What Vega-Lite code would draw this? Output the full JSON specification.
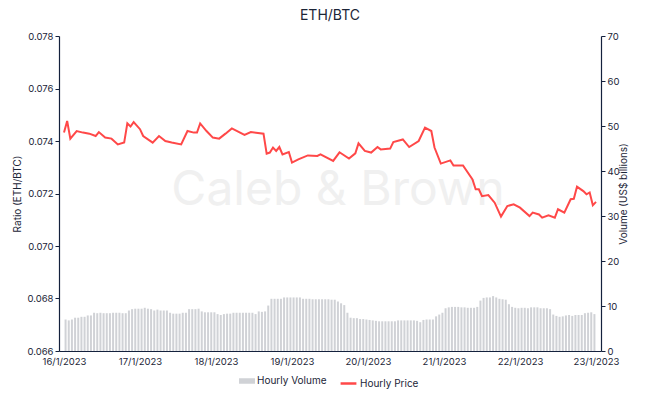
{
  "$schema": "https://vega.github.io/schema/vega-lite/v6.json",
  "width": 542,
  "height": 315,
  "padding": {"left": 12, "top": 9, "right": 10, "bottom": 5},
  "background": "white",
  "title": {"text": "ETH/BTC", "fontSize": 14, "fontWeight": "normal", "font": "Inter", "color": "#1b2537", "offset": 8},
  "config": {
    "view": {"stroke": null},
    "font": "Inter",
    "axis": {"labelFont": "Inter", "titleFont": "Inter", "labelColor": "#1b2537", "titleColor": "#1b2537", "domainColor": "#14213d", "tickColor": "#14213d", "labelFontSize": 9.5, "titleFontSize": 10, "titleFontWeight": "normal", "grid": false, "domainWidth": 1.2},
    "axisX": {"title": null, "format": "%-d/%-m/%Y", "tickCount": {"interval": "day", "step": 1}, "ticks": false, "labelPadding": 5, "labelOverlap": false, "labelFlush": false},
    "legend": {"labelFont": "Inter", "labelFontSize": 10, "labelColor": "#1b2537"}
  },
  "datasets": {
    "vol": [
      {"t":"2023-01-16T00:30","v":7.0},{"t":"2023-01-16T01:30","v":6.8},{"t":"2023-01-16T02:30","v":7.0},{"t":"2023-01-16T03:30","v":7.4},{"t":"2023-01-16T04:30","v":7.4},{"t":"2023-01-16T05:30","v":7.6},{"t":"2023-01-16T06:30","v":7.6},{"t":"2023-01-16T07:30","v":7.9},{"t":"2023-01-16T08:30","v":7.9},{"t":"2023-01-16T09:30","v":8.5},{"t":"2023-01-16T10:30","v":8.4},{"t":"2023-01-16T11:30","v":8.5},{"t":"2023-01-16T12:30","v":8.4},{"t":"2023-01-16T13:30","v":8.4},{"t":"2023-01-16T14:30","v":8.4},{"t":"2023-01-16T15:30","v":8.5},{"t":"2023-01-16T16:30","v":8.5},{"t":"2023-01-16T17:30","v":8.5},{"t":"2023-01-16T18:30","v":8.4},{"t":"2023-01-16T19:30","v":8.4},{"t":"2023-01-16T20:30","v":9.0},{"t":"2023-01-16T21:30","v":9.3},{"t":"2023-01-16T22:30","v":9.4},{"t":"2023-01-16T23:30","v":9.4},
      {"t":"2023-01-17T00:30","v":9.4},{"t":"2023-01-17T01:30","v":9.6},{"t":"2023-01-17T02:30","v":9.4},{"t":"2023-01-17T03:30","v":9.3},{"t":"2023-01-17T04:30","v":9.0},{"t":"2023-01-17T05:30","v":9.2},{"t":"2023-01-17T06:30","v":9.0},{"t":"2023-01-17T07:30","v":9.0},{"t":"2023-01-17T08:30","v":9.0},{"t":"2023-01-17T09:30","v":8.5},{"t":"2023-01-17T10:30","v":8.3},{"t":"2023-01-17T11:30","v":8.3},{"t":"2023-01-17T12:30","v":8.3},{"t":"2023-01-17T13:30","v":8.5},{"t":"2023-01-17T14:30","v":8.5},{"t":"2023-01-17T15:30","v":9.3},{"t":"2023-01-17T16:30","v":9.3},{"t":"2023-01-17T17:30","v":9.3},{"t":"2023-01-17T18:30","v":9.4},{"t":"2023-01-17T19:30","v":8.8},{"t":"2023-01-17T20:30","v":8.6},{"t":"2023-01-17T21:30","v":8.6},{"t":"2023-01-17T22:30","v":8.6},{"t":"2023-01-17T23:30","v":8.6},
      {"t":"2023-01-18T00:30","v":8.2},{"t":"2023-01-18T01:30","v":8.0},{"t":"2023-01-18T02:30","v":8.2},{"t":"2023-01-18T03:30","v":8.3},{"t":"2023-01-18T04:30","v":8.3},{"t":"2023-01-18T05:30","v":8.5},{"t":"2023-01-18T06:30","v":8.5},{"t":"2023-01-18T07:30","v":8.5},{"t":"2023-01-18T08:30","v":8.5},{"t":"2023-01-18T09:30","v":8.5},{"t":"2023-01-18T10:30","v":8.5},{"t":"2023-01-18T11:30","v":8.5},{"t":"2023-01-18T12:30","v":8.2},{"t":"2023-01-18T13:30","v":8.8},{"t":"2023-01-18T14:30","v":8.7},{"t":"2023-01-18T15:30","v":8.8},{"t":"2023-01-18T16:30","v":10.1},{"t":"2023-01-18T17:30","v":11.6},{"t":"2023-01-18T18:30","v":11.6},{"t":"2023-01-18T19:30","v":11.6},{"t":"2023-01-18T20:30","v":11.6},{"t":"2023-01-18T21:30","v":11.9},{"t":"2023-01-18T22:30","v":11.9},{"t":"2023-01-18T23:30","v":11.9},
      {"t":"2023-01-19T00:30","v":11.9},{"t":"2023-01-19T01:30","v":11.9},{"t":"2023-01-19T02:30","v":11.9},{"t":"2023-01-19T03:30","v":11.6},{"t":"2023-01-19T04:30","v":11.6},{"t":"2023-01-19T05:30","v":11.6},{"t":"2023-01-19T06:30","v":11.5},{"t":"2023-01-19T07:30","v":11.5},{"t":"2023-01-19T08:30","v":11.5},{"t":"2023-01-19T09:30","v":11.5},{"t":"2023-01-19T10:30","v":11.5},{"t":"2023-01-19T11:30","v":11.5},{"t":"2023-01-19T12:30","v":11.4},{"t":"2023-01-19T13:30","v":11.4},{"t":"2023-01-19T14:30","v":11.0},{"t":"2023-01-19T15:30","v":10.6},{"t":"2023-01-19T16:30","v":10.2},{"t":"2023-01-19T17:30","v":8.5},{"t":"2023-01-19T18:30","v":7.4},{"t":"2023-01-19T19:30","v":7.3},{"t":"2023-01-19T20:30","v":7.3},{"t":"2023-01-19T21:30","v":7.1},{"t":"2023-01-19T22:30","v":7.1},{"t":"2023-01-19T23:30","v":7.0},
      {"t":"2023-01-20T00:30","v":6.9},{"t":"2023-01-20T01:30","v":6.8},{"t":"2023-01-20T02:30","v":6.7},{"t":"2023-01-20T03:30","v":6.6},{"t":"2023-01-20T04:30","v":6.6},{"t":"2023-01-20T05:30","v":6.6},{"t":"2023-01-20T06:30","v":6.6},{"t":"2023-01-20T07:30","v":6.6},{"t":"2023-01-20T08:30","v":6.6},{"t":"2023-01-20T09:30","v":6.8},{"t":"2023-01-20T10:30","v":6.8},{"t":"2023-01-20T11:30","v":6.8},{"t":"2023-01-20T12:30","v":6.8},{"t":"2023-01-20T13:30","v":6.8},{"t":"2023-01-20T14:30","v":6.8},{"t":"2023-01-20T15:30","v":6.7},{"t":"2023-01-20T16:30","v":6.4},{"t":"2023-01-20T17:30","v":6.9},{"t":"2023-01-20T18:30","v":7.0},{"t":"2023-01-20T19:30","v":7.0},{"t":"2023-01-20T20:30","v":7.0},{"t":"2023-01-20T21:30","v":7.7},{"t":"2023-01-20T22:30","v":8.1},{"t":"2023-01-20T23:30","v":8.5},
      {"t":"2023-01-21T00:30","v":9.5},{"t":"2023-01-21T01:30","v":9.7},{"t":"2023-01-21T02:30","v":9.8},{"t":"2023-01-21T03:30","v":9.8},{"t":"2023-01-21T04:30","v":9.8},{"t":"2023-01-21T05:30","v":9.7},{"t":"2023-01-21T06:30","v":9.7},{"t":"2023-01-21T07:30","v":9.6},{"t":"2023-01-21T08:30","v":9.6},{"t":"2023-01-21T09:30","v":9.6},{"t":"2023-01-21T10:30","v":9.8},{"t":"2023-01-21T11:30","v":11.2},{"t":"2023-01-21T12:30","v":11.8},{"t":"2023-01-21T13:30","v":11.9},{"t":"2023-01-21T14:30","v":11.9},{"t":"2023-01-21T15:30","v":12.2},{"t":"2023-01-21T16:30","v":11.9},{"t":"2023-01-21T17:30","v":11.6},{"t":"2023-01-21T18:30","v":11.5},{"t":"2023-01-21T19:30","v":11.4},{"t":"2023-01-21T20:30","v":10.4},{"t":"2023-01-21T21:30","v":9.8},{"t":"2023-01-21T22:30","v":9.6},{"t":"2023-01-21T23:30","v":9.5},
      {"t":"2023-01-22T00:30","v":9.6},{"t":"2023-01-22T01:30","v":9.6},{"t":"2023-01-22T02:30","v":9.5},{"t":"2023-01-22T03:30","v":9.7},{"t":"2023-01-22T04:30","v":9.7},{"t":"2023-01-22T05:30","v":9.7},{"t":"2023-01-22T06:30","v":9.5},{"t":"2023-01-22T07:30","v":9.5},{"t":"2023-01-22T08:30","v":9.5},{"t":"2023-01-22T09:30","v":9.3},{"t":"2023-01-22T10:30","v":8.1},{"t":"2023-01-22T11:30","v":7.8},{"t":"2023-01-22T12:30","v":7.6},{"t":"2023-01-22T13:30","v":7.7},{"t":"2023-01-22T14:30","v":7.9},{"t":"2023-01-22T15:30","v":8.0},{"t":"2023-01-22T16:30","v":7.8},{"t":"2023-01-22T17:30","v":8.0},{"t":"2023-01-22T18:30","v":8.0},{"t":"2023-01-22T19:30","v":8.0},{"t":"2023-01-22T20:30","v":8.4},{"t":"2023-01-22T21:30","v":8.5},{"t":"2023-01-22T22:30","v":8.6},{"t":"2023-01-22T23:30","v":8.2}
    ],
    "price": [
      {"t":"2023-01-16T00:00","p":0.07432},{"t":"2023-01-16T01:00","p":0.07476},{"t":"2023-01-16T02:00","p":0.07409},{"t":"2023-01-16T04:00","p":0.07438},{"t":"2023-01-16T06:00","p":0.07432},{"t":"2023-01-16T08:00","p":0.07428},{"t":"2023-01-16T10:00","p":0.07419},{"t":"2023-01-16T11:00","p":0.07434},{"t":"2023-01-16T13:00","p":0.07413},{"t":"2023-01-16T15:00","p":0.07409},{"t":"2023-01-16T17:00","p":0.07387},{"t":"2023-01-16T19:00","p":0.07394},{"t":"2023-01-16T20:00","p":0.07467},{"t":"2023-01-16T21:00","p":0.07455},{"t":"2023-01-16T22:00","p":0.07472},
      {"t":"2023-01-17T00:00","p":0.07445},{"t":"2023-01-17T01:00","p":0.07419},{"t":"2023-01-17T04:00","p":0.07394},{"t":"2023-01-17T06:00","p":0.07419},{"t":"2023-01-17T08:00","p":0.07400},{"t":"2023-01-17T10:00","p":0.07394},{"t":"2023-01-17T13:00","p":0.07387},{"t":"2023-01-17T15:00","p":0.07438},{"t":"2023-01-17T17:00","p":0.07432},{"t":"2023-01-17T18:00","p":0.07432},{"t":"2023-01-17T19:00","p":0.07467},{"t":"2023-01-17T21:00","p":0.07438},{"t":"2023-01-17T23:00","p":0.07413},
      {"t":"2023-01-18T01:00","p":0.07409},{"t":"2023-01-18T03:00","p":0.07428},{"t":"2023-01-18T05:00","p":0.07448},{"t":"2023-01-18T09:00","p":0.07423},{"t":"2023-01-18T11:00","p":0.07434},{"t":"2023-01-18T15:00","p":0.07428},{"t":"2023-01-18T16:00","p":0.07352},{"t":"2023-01-18T17:00","p":0.07356},{"t":"2023-01-18T18:00","p":0.07375},{"t":"2023-01-18T19:00","p":0.07362},{"t":"2023-01-18T20:00","p":0.07377},{"t":"2023-01-18T21:00","p":0.07349},{"t":"2023-01-18T23:00","p":0.07358},
      {"t":"2023-01-19T00:00","p":0.07318},{"t":"2023-01-19T02:00","p":0.07330},{"t":"2023-01-19T05:00","p":0.07345},{"t":"2023-01-19T08:00","p":0.07343},{"t":"2023-01-19T09:00","p":0.07349},{"t":"2023-01-19T13:00","p":0.07324},{"t":"2023-01-19T15:00","p":0.07357},{"t":"2023-01-19T18:00","p":0.07333},{"t":"2023-01-19T20:00","p":0.07353},{"t":"2023-01-19T21:00","p":0.07391},{"t":"2023-01-19T23:00","p":0.07362},
      {"t":"2023-01-20T01:00","p":0.07356},{"t":"2023-01-20T03:00","p":0.07377},{"t":"2023-01-20T04:00","p":0.07368},{"t":"2023-01-20T07:00","p":0.07371},{"t":"2023-01-20T08:00","p":0.07396},{"t":"2023-01-20T11:00","p":0.07406},{"t":"2023-01-20T13:00","p":0.07377},{"t":"2023-01-20T16:00","p":0.07400},{"t":"2023-01-20T18:00","p":0.07451},{"t":"2023-01-20T20:00","p":0.07438},{"t":"2023-01-20T21:00","p":0.07375},{"t":"2023-01-20T23:00","p":0.07314},
      {"t":"2023-01-21T02:00","p":0.07326},{"t":"2023-01-21T03:00","p":0.07307},{"t":"2023-01-21T06:00","p":0.07307},{"t":"2023-01-21T09:00","p":0.07254},{"t":"2023-01-21T10:00","p":0.07216},{"t":"2023-01-21T11:00","p":0.07216},{"t":"2023-01-21T12:00","p":0.07190},{"t":"2023-01-21T14:00","p":0.07194},{"t":"2023-01-21T16:00","p":0.07165},{"t":"2023-01-21T18:00","p":0.07112},{"t":"2023-01-21T20:00","p":0.07152},{"t":"2023-01-21T22:00","p":0.07159},
      {"t":"2023-01-22T00:00","p":0.07146},{"t":"2023-01-22T03:00","p":0.07114},{"t":"2023-01-22T04:00","p":0.07127},{"t":"2023-01-22T06:00","p":0.07120},{"t":"2023-01-22T07:00","p":0.07108},{"t":"2023-01-22T09:00","p":0.07117},{"t":"2023-01-22T11:00","p":0.07108},{"t":"2023-01-22T12:00","p":0.07140},{"t":"2023-01-22T14:00","p":0.07127},{"t":"2023-01-22T16:00","p":0.07178},{"t":"2023-01-22T17:00","p":0.07180},{"t":"2023-01-22T18:00","p":0.07226},{"t":"2023-01-22T20:00","p":0.07209},{"t":"2023-01-22T21:00","p":0.07197},{"t":"2023-01-22T22:00","p":0.07204},{"t":"2023-01-22T23:00","p":0.07155},{"t":"2023-01-23T00:00","p":0.07168}
    ],
    "wm": [{"label": "Caleb & Brown"}]
  },
  "layer": [
    {
      "data": {"name": "wm"},
      "mark": {"type": "text", "fontSize": 48, "font": "Inter", "fill": "#f0f0f0", "align": "center", "baseline": "middle"},
      "encoding": {
        "x": {"datum": {"year": 2023, "month": 1, "date": 19, "hours": 14, "minutes": 30}, "type": "temporal", "scale": {"domain": ["2023-01-16T00:00", "2023-01-23T00:00"]}},
        "y": {"datum": 0.0721, "type": "quantitative", "scale": {"domain": [0.066, 0.078]}, "axis": null},
        "text": {"field": "label", "type": "nominal"}
      }
    },
    {
      "data": {"name": "vol"},
      "mark": {"type": "bar", "size": 2},
      "encoding": {
        "x": {"field": "t", "type": "temporal"},
        "y": {"field": "v", "type": "quantitative", "scale": {"domain": [0, 70]}, "axis": {"orient": "right", "title": "Volume (US$ billions)", "values": [0,10,20,30,40,50,60,70], "tickSize": 4, "labelPadding": 2, "titlePadding": 9, "titleAngle": 270}},
        "fill": {"datum": "Hourly Volume", "type": "nominal", "scale": {"domain": ["Hourly Volume"], "range": ["#d0d2d6"]}, "legend": {"title": null, "orient": "none", "legendX": 181, "legendY": 338, "symbolType": "M-1.3,-0.45H1.3V0.45H-1.3Z", "symbolSize": 150, "labelOffset": 3}}
      }
    },
    {
      "data": {"name": "price"},
      "mark": {"type": "line", "strokeWidth": 2, "interpolate": "linear"},
      "encoding": {
        "x": {"field": "t", "type": "temporal"},
        "y": {"field": "p", "type": "quantitative", "scale": {"domain": [0.066, 0.078]}, "axis": {"orient": "left", "title": "Ratio (ETH/BTC)", "values": [0.066,0.068,0.07,0.072,0.074,0.076,0.078], "format": ".3f", "tickSize": 4, "labelPadding": 2, "titlePadding": 4}},
        "stroke": {"datum": "Hourly Price", "type": "nominal", "scale": {"domain": ["Hourly Price"], "range": ["#ff4848"]}, "legend": {"title": null, "orient": "none", "legendX": 280, "legendY": 338, "symbolSize": 250, "symbolStrokeWidth": 2.5, "labelOffset": 2}}
      }
    }
  ],
  "resolve": {"scale": {"y": "independent"}}
}
